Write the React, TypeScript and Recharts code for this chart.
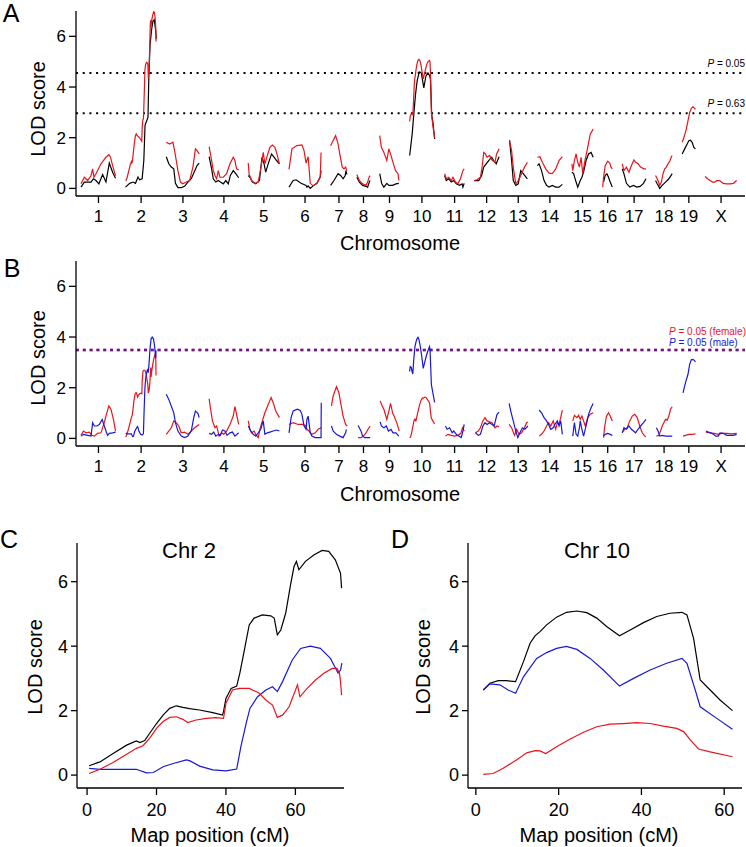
import React from "react";
import { LineChart, Line, XAxis, YAxis, ReferenceLine } from "recharts";

type Pt = [number, number];

const RED = "#e8141b";
const BLUE = "#1818d8";
const BLACK = "#000000";
const FONT = '"Liberation Sans", Arial, Helvetica, sans-serif';

// chromosome layout (cM)
const CHR_NAMES = ["1", "2", "3", "4", "5", "6", "7", "8", "9", "10", "11", "12", "13", "14", "15", "16", "17", "18", "19", "X"];
const CHR_LENGTHS = [84, 75, 80, 71, 75, 77, 40, 32, 47, 63, 48, 60, 46, 60, 51, 24, 57, 41, 32, 77];
const CHR_GAP = 23;
const PAD_LEFT = 12;
const PAD_RIGHT = 19;

// threshold LOD values
const THRESH_A = [4.55, 2.97];
const THRESH_A_LABELS = ["0.05", "0.63"];
const THRESH_B = 3.49;

// Chr 2 detail (panel C)
const chr2All: Pt[] = [[0.6,0.29],[3.7,0.41],[7.5,0.67],[11.4,0.93],[14.2,1.06],[15.2,1.01],[16.6,1.07],[18,1.29],[20,1.6],[21.9,1.86],[23.8,2.07],[25.7,2.15],[27.6,2.1],[29.5,2.06],[32.4,2.02],[36.2,1.94],[39,1.86],[39.3,1.97],[40,2.38],[41.5,2.69],[43.1,2.76],[44,3.16],[45.3,3.88],[46.7,4.66],[48.1,4.87],[50.5,4.97],[52.9,4.94],[53.9,4.87],[54.8,4.35],[55.8,4.5],[57.2,5.02],[58.6,5.9],[59.6,6.47],[60.3,6.63],[61,6.37],[62.9,6.63],[65.3,6.83],[67.7,6.97],[69.6,6.94],[71.5,6.68],[73,6.26],[73.3,5.8]];
const chr2Female: Pt[] = [[0.6,0.05],[3.7,0.18],[7.5,0.39],[11.4,0.65],[14.2,0.83],[16.1,0.91],[18,1.14],[20,1.45],[21.9,1.66],[23.8,1.79],[25.7,1.81],[27.6,1.73],[29,1.63],[31.4,1.71],[34.3,1.76],[37.1,1.78],[39.3,1.76],[40,2.23],[41.9,2.64],[43.8,2.69],[46.7,2.69],[49.6,2.54],[51.5,2.33],[53.4,2.17],[54.8,1.79],[56.3,1.86],[58.2,2.12],[60.6,2.8],[61.3,2.43],[63.4,2.69],[65.8,2.95],[68.2,3.16],[70.6,3.31],[72,3.31],[72.7,3.16],[73,2.9],[73.3,2.48]];
const chr2Male: Pt[] = [[0.6,0.21],[3.7,0.18],[8.4,0.18],[14.2,0.18],[17.1,0.07],[19.1,0.08],[21.9,0.26],[24.8,0.36],[28.6,0.47],[29.5,0.45],[32.4,0.28],[36.2,0.16],[40,0.13],[43.1,0.19],[44.3,0.88],[45.8,1.6],[46.9,2.07],[49.1,2.43],[51.5,2.64],[53.4,2.74],[54.8,2.59],[56.3,2.9],[59.1,3.57],[61.5,3.93],[64.3,4.0],[67.2,3.93],[70.1,3.62],[72.3,3.16],[73,3.26],[73.4,3.47]];

// Chr 10 detail (panel D)
const chr10All: Pt[] = [[1.8,2.64],[3.4,2.85],[5.4,2.93],[7.4,2.93],[9.6,2.9],[11.5,3.52],[13.1,4.09],[14.3,4.32],[15.5,4.45],[17.1,4.66],[19.5,4.9],[21.9,5.05],[24.4,5.09],[26.8,5.04],[29.2,4.87],[31.6,4.61],[34.7,4.32],[37.3,4.5],[40.5,4.73],[43.7,4.92],[46.9,5.02],[49.8,5.05],[51,4.97],[52.6,4.24],[54.2,2.95],[56.6,2.64],[59,2.33],[62,2.0]];
const chr10Male: Pt[] = [[1.8,2.64],[3.4,2.83],[5.8,2.8],[7.8,2.64],[9.6,2.54],[11.5,3.05],[14.7,3.62],[17.1,3.8],[19.5,3.93],[21.9,3.99],[24.4,3.9],[27.6,3.62],[30.8,3.26],[34.7,2.76],[38.1,3.0],[42.1,3.26],[46.1,3.47],[49.8,3.62],[51,3.47],[53,2.64],[54.2,2.12],[58.2,1.76],[62,1.42]];
const chr10Female: Pt[] = [[1.8,0.02],[4.2,0.05],[6.6,0.21],[9.8,0.47],[12.3,0.69],[14.3,0.76],[15.5,0.75],[16.9,0.67],[19.5,0.88],[22.7,1.11],[26,1.33],[29.2,1.5],[32.4,1.58],[35.6,1.6],[38.9,1.63],[42.1,1.6],[45.3,1.52],[48.5,1.45],[50.2,1.35],[51.8,1.09],[53.8,0.81],[56.6,0.72],[62,0.57]];

// genome scan, panel A red (all mice)
const scanAll: Pt[][] = [
  [[0,0.18],[8,0.44],[16,0.31],[24,0.5],[28,0.77],[31,0.45],[36,0.58],[48,0.97],[60,1.23],[67,1.33],[71,1.23],[76,0.9],[83,0.5]],
  chr2All,
  [[0,1.82],[8,1.75],[16,1.82],[20,1.49],[24,1.1],[28,0.7],[34,0.25],[40,0.18],[48,0.25],[56,0.31],[64,0.84],[70,1.56],[74,1.49],[79,1.36]],
  [[0,1.65],[6,1.1],[10,0.7],[14,0.51],[18,0.38],[22,0.7],[26,0.44],[34,0.44],[42,0.58],[50,0.97],[58,1.23],[62,1.1],[66,0.77],[71,0.73]],
  [[0,1.0],[2,0.58],[8,0.31],[16,0.2],[24,0.25],[32,0.97],[36,1.42],[40,0.97],[46,1.3],[52,1.62],[58,1.71],[64,1.62],[68,1.42],[75,0.97]],
  [[0,0.75],[7,1.56],[19,1.69],[31,1.72],[36,1.5],[41,1.0],[46,1.25],[51,0.2],[58,0.1],[67,0.2],[75,0.45],[77,1.42]],
  [[0,1.68],[4,1.82],[12,2.08],[18,1.75],[22,1.36],[28,0.84],[32,0.77],[36,0.84],[39,0.7]],
  [[0,0.55],[6,0.31],[14,0.18],[22,0.12],[26,0.25],[30,0.47],[32,0.5]],
  [[0,2.08],[4,1.62],[10,1.42],[17,1.1],[22,1.56],[26,1.36],[33,0.97],[38,0.7],[44,0.58],[46,0.31]],
  chr10All,
  [[0,0.58],[4,0.38],[10,0.44],[16,0.31],[20,0.44],[26,0.25],[32,0.18],[38,0.38],[44,0.7],[47,0.77]],
  [[0,0.31],[7,0.34],[15,0.44],[19,0.84],[23,1.42],[27,1.36],[31,1.23],[37,1.3],[43,1.12],[50,1.03],[54,1.36],[60,1.56]],
  [[2,1.9],[7,1.49],[11,0.84],[17,0.18],[23,0.31],[31,0.58],[38,0.84],[45,1.03]],
  [[0,1.23],[6,1.25],[12,1.03],[20,0.77],[28,0.6],[36,0.58],[44,0.77],[52,1.1],[60,1.25]],
  [[0,0.97],[2,0.7],[6,1.1],[10,1.36],[14,1.03],[18,0.84],[22,1.23],[26,0.58],[32,1.16],[38,1.62],[44,2.14],[51,2.34]],
  [[0,0.05],[2,0.44],[6,0.9],[12,1.07],[17,1.0],[20,0.84],[23,0.77]],
  [[0,0.97],[4,0.7],[10,0.84],[16,0.64],[22,0.9],[28,1.12],[32,1.03],[38,0.97],[44,0.84],[52,0.77],[57,0.77]],
  [[0,0.51],[6,0.31],[10,0.12],[14,0.25],[18,0.58],[22,0.77],[26,0.84],[30,0.97],[35,1.1],[38,1.25],[40,1.29]],
  [[0,1.82],[4,2.0],[10,2.34],[14,2.67],[18,3.0],[22,3.16],[26,3.22],[30,3.16],[32,3.12]],
  [[0,0.47],[6,0.38],[12,0.31],[18,0.25],[24,0.25],[28,0.31],[35,0.31],[39,0.25],[44,0.2],[52,0.18],[60,0.18],[68,0.2],[76,0.31]],
];

// genome scan, panel A black
const scanCovar: Pt[][] = [
  [[0,0.05],[8,0.25],[24,0.25],[30,0.38],[36,0.31],[43,0.18],[52,0.55],[60,0.25],[68,1.0],[76,0.64],[83,0.4]],
  [[0,0.05],[10,0.2],[18,0.25],[24,0.2],[30,0.45],[34,0.34],[40,0.38],[44,1.1],[47,2.5],[51,2.67],[54,2.8],[56,4.37],[59,5.67],[63,6.3],[66,6.6],[69,6.65],[72,6.3],[74,5.9]],
  [[0,1.25],[6,0.97],[12,0.84],[18,0.77],[22,0.2],[28,0.03],[36,0.03],[44,0.08],[52,0.25],[60,0.38],[68,0.68],[74,0.9],[79,1.0]],
  [[0,1.25],[6,0.77],[10,0.38],[16,0.25],[22,0.31],[27,0.25],[34,0.18],[40,0.31],[46,0.18],[51,0.51],[58,0.7],[64,0.58],[71,0.42]],
  [[0,0.51],[4,0.44],[10,0.25],[18,0.18],[27,0.31],[33,1.23],[38,0.97],[42,0.64],[48,0.97],[56,1.36],[62,1.23],[68,1.1],[75,0.97]],
  [[0,0.05],[10,0.31],[17,0.34],[29,0.2],[41,0.12],[43,0.05],[46,0.1],[51,0.0],[58,0.1],[67,0.2],[75,0.45],[77,0.7]],
  [[0,0.12],[8,0.31],[18,0.58],[24,0.51],[30,0.38],[35,0.51],[37,0.7],[39,0.55]],
  [[0,0.44],[6,0.25],[14,0.12],[22,0.08],[26,0.05],[30,0.25],[32,0.31]],
  [[0,0.58],[5,0.18],[10,0.05],[17,0.2],[22,0.12],[31,0.12],[39,0.18],[46,0.2]],
  [[2,1.3],[8,2.14],[12,2.93],[16,3.7],[20,4.24],[25,4.6],[30,4.56],[36,3.97],[41,4.43],[46,4.56],[50,4.45],[52,4.3],[55,2.9],[58,2.6],[62,1.95]],
  [[0,0.51],[4,0.31],[10,0.38],[16,0.25],[22,0.31],[28,0.18],[36,0.12],[42,0.18],[44,0.05],[47,0.2]],
  [[0,0.31],[11,0.31],[18,0.51],[23,0.84],[29,0.97],[35,1.1],[42,1.23],[47,1.1],[53,0.97],[60,1.25]],
  [[2,1.9],[7,1.1],[11,0.31],[17,0.12],[23,0.18],[29,0.7],[35,0.58],[45,0.38]],
  [[0,0.9],[4,0.97],[10,0.7],[16,0.31],[22,0.12],[28,0.05],[36,0.12],[44,0.05],[52,0.05],[60,0.16]],
  [[0,0.64],[4,0.58],[10,0.25],[14,0.05],[20,0.31],[24,0.44],[28,0.64],[34,1.1],[40,1.36],[46,1.42],[51,1.23]],
  [[2,0.25],[6,0.51],[10,0.58],[14,0.44],[18,0.25],[23,0.05]],
  [[0,0.77],[4,0.58],[10,0.2],[18,0.05],[27,0.12],[35,0.05],[43,0.08],[51,0.2],[57,0.38]],
  [[0,0.31],[4,0.18],[10,0.0],[16,0.12],[24,0.25],[32,0.38],[40,0.58]],
  [[0,1.36],[6,1.56],[12,1.75],[16,1.88],[20,1.9],[24,1.82],[28,1.62],[32,1.56]],
  [],
];

// genome scan, panel B females (red)
const scanFemale: Pt[][] = [
  [[0,0.12],[6,0.29],[12,0.22],[20,0.25],[26,0.12],[32,0.09],[40,0.2],[48,0.22],[56,0.62],[62,1.01],[67,1.28],[72,1.15],[78,0.75],[83,0.29]],
  chr2Female,
  [[0,0.16],[6,0.29],[12,0.42],[18,0.69],[24,0.62],[30,0.49],[36,0.22],[44,0.25],[52,0.16],[60,0.29],[68,0.42],[79,0.55]],
  [[0,1.57],[3,1.21],[8,0.69],[14,0.42],[18,0.49],[24,0.09],[30,0.22],[35,0.16],[42,0.29],[50,0.55],[58,0.88],[62,1.25],[66,0.95],[71,0.55]],
  [[0,0.69],[4,0.36],[8,0.22],[14,0.29],[18,0.16],[24,0.03],[28,0.36],[34,0.69],[40,1.01],[48,1.34],[55,1.61],[60,1.41],[66,1.08],[75,0.82]],
  [[0,0.55],[10,0.62],[22,0.55],[34,0.55],[41,0.49],[43,0.36],[48,0.29],[55,0.16],[63,0.22],[70,0.36],[77,0.42]],
  [[2,1.28],[6,1.67],[14,2.04],[20,1.8],[24,1.41],[30,0.88],[36,0.55],[40,0.49]],
  [[3,0.03],[10,0.03],[16,0.09],[22,0.22],[27,0.36],[32,0.49]],
  [[1,1.48],[6,1.28],[10,1.15],[17,0.75],[22,1.08],[26,1.38],[31,1.01],[36,0.82],[41,0.62],[47,0.29]],
  chr10Female,
  [[2,0.09],[8,0.16],[16,0.12],[24,0.09],[32,0.12],[39,0.2],[43,0.42],[47,0.29]],
  [[3,0.22],[10,0.29],[15,0.42],[21,0.69],[26,0.82],[31,0.69],[37,0.65],[43,0.62],[50,0.42],[55,0.49],[60,0.46]],
  [[1,0.55],[7,0.42],[14,0.12],[19,0.36],[25,0.16],[31,0.22],[38,0.42],[43,0.62],[46,0.65]],
  [[4,0.09],[10,0.16],[16,0.29],[22,0.49],[27,0.62],[32,0.49],[38,0.69],[44,0.36],[48,0.62],[52,0.55],[56,0.82],[60,1.12]],
  [[2,0.69],[6,0.91],[12,0.82],[16,0.91],[20,0.75],[24,0.88],[28,0.69],[32,0.49],[38,0.82],[44,0.95],[51,1.01]],
  [[2,0.03],[5,0.49],[9,0.88],[14,1.01],[18,0.88],[23,0.69]],
  [[0,0.25],[6,0.36],[12,0.42],[18,0.69],[24,0.88],[30,0.95],[36,0.82],[42,0.49],[48,0.22],[54,0.09],[57,0.07]],
  [[2,0.09],[8,0.12],[12,0.29],[16,0.49],[20,0.62],[24,0.75],[28,0.72],[32,0.88],[36,1.15],[40,1.25]],
  [[2,0.09],[8,0.12],[16,0.16],[24,0.16],[32,0.18]],
  [[2,0.25],[12,0.22],[22,0.2],[32,0.16],[40,0.2],[52,0.2],[64,0.18],[76,0.2]],
];

// genome scan, panel B males (blue)
const scanMale: Pt[][] = [
  [[0,0.09],[6,0.16],[16,0.12],[24,0.09],[28,0.62],[32,0.49],[38,0.49],[44,0.55],[51,0.75],[56,0.49],[60,0.29],[64,0.12],[68,0.2],[76,0.22],[83,0.25]],
  chr2Male,
  [[0,1.74],[6,1.54],[12,1.28],[18,1.01],[22,0.62],[28,0.29],[36,0.09],[44,0.03],[52,0.09],[60,0.29],[66,0.82],[70,1.08],[76,0.99],[79,0.82]],
  [[0,0.2],[6,0.16],[11,0.25],[16,0.09],[22,0.16],[27,0.12],[32,0.33],[38,0.29],[43,0.12],[50,0.22],[56,0.25],[62,0.09],[71,0.22]],
  [[0,0.49],[6,0.29],[12,0.16],[18,0.09],[24,0.22],[30,0.36],[36,0.69],[40,0.16],[46,0.22],[52,0.25],[60,0.29],[68,0.33],[75,0.29]],
  [[0,0.22],[5,0.82],[10,1.08],[20,1.15],[27,1.1],[31,0.95],[36,0.5],[41,0.36],[43,0.75],[46,0.88],[51,0.22],[55,0.09],[63,0.03],[70,0.03],[77,0.03],[77.5,1.41]],
  [[2,0.49],[6,0.29],[14,0.16],[22,0.09],[30,0.03],[36,0.22],[38,0.36]],
  [[3,0.51],[10,0.29],[14,0.09],[19,0.03],[26,0.03],[32,0.03]],
  [[1,0.65],[4,0.49],[10,0.42],[16,0.49],[21,0.29],[27,0.36],[32,0.22],[39,0.22],[46,0.09]],
  chr10Male,
  [[2,0.49],[6,0.36],[12,0.42],[18,0.22],[22,0.29],[28,0.16],[34,0.09],[40,0.03],[44,0.29],[47,0.55]],
  [[3,0.22],[10,0.12],[15,0.16],[21,0.49],[26,0.62],[31,0.55],[37,0.62],[43,0.55],[48,0.49],[51,0.69],[55,0.95],[60,1.04]],
  [[1,1.38],[6,1.01],[11,0.69],[17,0.29],[22,0.03],[27,0.22],[33,0.42],[39,0.36],[46,0.49]],
  [[4,1.12],[10,1.01],[16,0.82],[22,0.69],[27,0.55],[32,0.36],[38,0.42],[42,0.55],[48,0.69],[52,0.49],[56,0.69],[60,0.16]],
  [[2,0.09],[4,0.36],[6,0.62],[10,0.16],[14,0.09],[18,0.42],[20,0.69],[24,0.36],[28,0.09],[34,0.49],[40,0.95],[46,1.21],[51,1.38]],
  [[2,0.09],[6,0.16],[12,0.2],[18,0.16],[23,0.12]],
  [[0,0.22],[4,0.42],[10,0.36],[16,0.49],[22,0.36],[27,0.29],[32,0.22],[38,0.36],[44,0.49],[51,0.62],[57,0.75]],
  [[2,0.42],[6,0.29],[10,0.09],[16,0.12],[24,0.09],[32,0.09],[40,0.09]],
  [[2,1.8],[8,2.2],[14,2.53],[18,2.92],[22,3.1],[26,3.12],[30,3.06],[32,3.02]],
  [[2,0.29],[8,0.25],[14,0.22],[20,0.16],[26,0.09],[32,0.09],[36,0.22],[44,0.2],[52,0.12],[60,0.12],[68,0.12],[76,0.16]],
];

const chrStarts: number[] = [];
CHR_LENGTHS.reduce((acc, len) => {
  chrStarts.push(acc);
  return acc + len + CHR_GAP;
}, 0);
const chrCenters = chrStarts.map((s, i) => s + CHR_LENGTHS[i] / 2);
const genomeEnd = chrStarts[chrStarts.length - 1] + CHR_LENGTHS[CHR_LENGTHS.length - 1];

function toGenome(curves: Pt[][]) {
  const out: { x: number; y: number | null }[] = [];
  curves.forEach((pts, i) => {
    pts.forEach(([cm, lod]) => out.push({ x: chrStarts[i] + cm, y: lod }));
    out.push({ x: chrStarts[i] + CHR_LENGTHS[i] + CHR_GAP / 2, y: null });
  });
  return out;
}

function toXY(pts: Pt[]) {
  return pts.map(([x, y]) => ({ x, y }));
}

const axisLine = { stroke: BLACK, strokeWidth: 1.3 };
const tickLine = { stroke: BLACK, strokeWidth: 1.3 };

function Txt({ x, y, size, children, rotate, color = BLACK, anchor = "middle" }: any) {
  const tx = anchor === "middle" ? "-50%" : anchor === "end" ? "-100%" : "0";
  return (
    <div
      style={{
        position: "absolute",
        left: x,
        top: y,
        fontSize: size,
        lineHeight: 1,
        color,
        whiteSpace: "nowrap",
        transform: `translate(${tx}, -50%)${rotate ? ` rotate(${rotate}deg)` : ""}`,
        transformOrigin: anchor === "middle" ? "50% 50%" : undefined,
      }}
    >
      {children}
    </div>
  );
}

function GenomeChart({ top, series, refLines }: any) {
  return (
    <div style={{ position: "absolute", left: 0, top }}>
      <LineChart width={746} height={250} margin={{ top: 11, right: 1, bottom: 14, left: 0 }}>
        <XAxis
          type="number"
          dataKey="x"
          domain={[-PAD_LEFT, genomeEnd + PAD_RIGHT]}
          ticks={chrCenters}
          interval={0}
          tickFormatter={(v: number) => CHR_NAMES[chrCenters.indexOf(v)] ?? ""}
          height={40}
          tickSize={7}
          tickMargin={7}
          axisLine={axisLine}
          tickLine={tickLine}
          tick={{ fontSize: 17, fill: BLACK, fontFamily: FONT }}
          allowDataOverflow
        />
        <YAxis
          type="number"
          domain={[-0.3, 7]}
          ticks={[0, 2, 4, 6]}
          width={76}
          tickSize={7}
          tickMargin={3}
          axisLine={axisLine}
          tickLine={tickLine}
          tick={{ fontSize: 17, fill: BLACK, fontFamily: FONT }}
          allowDataOverflow
        />
        {refLines}
        {series.map((s: any) => (
          <Line
            key={s.key}
            data={s.data}
            dataKey="y"
            type="linear"
            stroke={s.color}
            strokeWidth={1.2}
            dot={false}
            activeDot={false}
            connectNulls={false}
            isAnimationActive={false}
          />
        ))}
      </LineChart>
    </div>
  );
}

function DetailChart({ left, domainX, series }: any) {
  return (
    <div style={{ position: "absolute", left, top: 530 }}>
      <LineChart width={355} height={300} margin={{ top: 13, right: left === 0 ? 11 : 4, bottom: 12, left: 0 }}>
        <XAxis
          type="number"
          dataKey="x"
          domain={domainX}
          ticks={[0, 20, 40, 60]}
          interval={0}
          height={30}
          tickSize={7}
          tickMargin={8}
          axisLine={axisLine}
          tickLine={tickLine}
          tick={{ fontSize: 18, fill: BLACK, fontFamily: FONT }}
          allowDataOverflow
        />
        <YAxis
          type="number"
          domain={[-0.4, 7.2]}
          ticks={[0, 2, 4, 6]}
          width={left === 0 ? 77 : 77}
          tickSize={6}
          tickMargin={3}
          axisLine={axisLine}
          tickLine={tickLine}
          tick={{ fontSize: 18, fill: BLACK, fontFamily: FONT }}
          allowDataOverflow
        />
        {series.map((s: any) => (
          <Line
            key={s.key}
            data={s.data}
            dataKey="y"
            type="linear"
            stroke={s.color}
            strokeWidth={1.2}
            dot={false}
            activeDot={false}
            isAnimationActive={false}
          />
        ))}
      </LineChart>
    </div>
  );
}

export default function App() {
  const seriesA = [
    { key: "covar", data: toGenome(scanCovar), color: BLACK },
    { key: "all", data: toGenome(scanAll), color: RED },
  ];
  const seriesB = [
    { key: "female", data: toGenome(scanFemale), color: RED },
    { key: "male", data: toGenome(scanMale), color: BLUE },
  ];
  const seriesC = [
    { key: "all", data: toXY(chr2All), color: BLACK },
    { key: "male", data: toXY(chr2Male), color: BLUE },
    { key: "female", data: toXY(chr2Female), color: RED },
  ];
  const seriesD = [
    { key: "all", data: toXY(chr10All), color: BLACK },
    { key: "male", data: toXY(chr10Male), color: BLUE },
    { key: "female", data: toXY(chr10Female), color: RED },
  ];

  const refA = THRESH_A.map((t) => (
    <ReferenceLine key={t} y={t} stroke={BLACK} strokeWidth={2} strokeDasharray="2 4.7" />
  ));
  const refB = [
    <ReferenceLine key="f" y={THRESH_B} stroke={RED} strokeWidth={2.6} strokeDasharray="3 3.8" />,
    <ReferenceLine key="m" y={THRESH_B} stroke={BLUE} strokeWidth={2.6} strokeDasharray="3 3.8" strokeOpacity={0.6} />,
  ];

  return (
    <div
      style={{
        position: "absolute",
        left: 0,
        top: 0,
        width: 746,
        height: 847,
        background: "#fff",
        fontFamily: FONT,
        overflow: "hidden",
      }}
    >
      <GenomeChart top={0} series={seriesA} refLines={refA} />
      <GenomeChart top={250} series={seriesB} refLines={refB} />
      <DetailChart left={0} domainX={[-2.9, 74]} series={seriesC} />
      <DetailChart left={391} domainX={[-1.9, 64.3]} series={seriesD} />

      <Txt x={11} y={13} size={25}>A</Txt>
      <Txt x={12} y={268} size={25}>B</Txt>
      <Txt x={9} y={539} size={25}>C</Txt>
      <Txt x={400} y={539} size={25}>D</Txt>

      <Txt x={38} y={109} size={20} rotate={-90}>LOD score</Txt>
      <Txt x={38} y={358} size={20} rotate={-90}>LOD score</Txt>
      <Txt x={35} y={667} size={20} rotate={-90}>LOD score</Txt>
      <Txt x={423} y={667} size={20} rotate={-90}>LOD score</Txt>

      <Txt x={400} y={243} size={20}>Chromosome</Txt>
      <Txt x={400} y={494} size={20}>Chromosome</Txt>
      <Txt x={210} y={835} size={20}>Map position (cM)</Txt>
      <Txt x={599} y={835} size={20}>Map position (cM)</Txt>

      <Txt x={189} y={551} size={22}>Chr 2</Txt>
      <Txt x={597} y={551} size={22}>Chr 10</Txt>

      {THRESH_A_LABELS.map((p, i) => (
        <Txt key={p} x={745} y={i === 0 ? 64 : 104} size={10} anchor="end">
          <i>P</i> = {p}
        </Txt>
      ))}
      <Txt x={669} y={332} size={10} anchor="start" color={RED}>
        <i>P</i> = 0.05 (female)
      </Txt>
      <Txt x={669} y={343} size={10} anchor="start" color={BLUE}>
        <i>P</i> = 0.05 (male)
      </Txt>
    </div>
  );
}
